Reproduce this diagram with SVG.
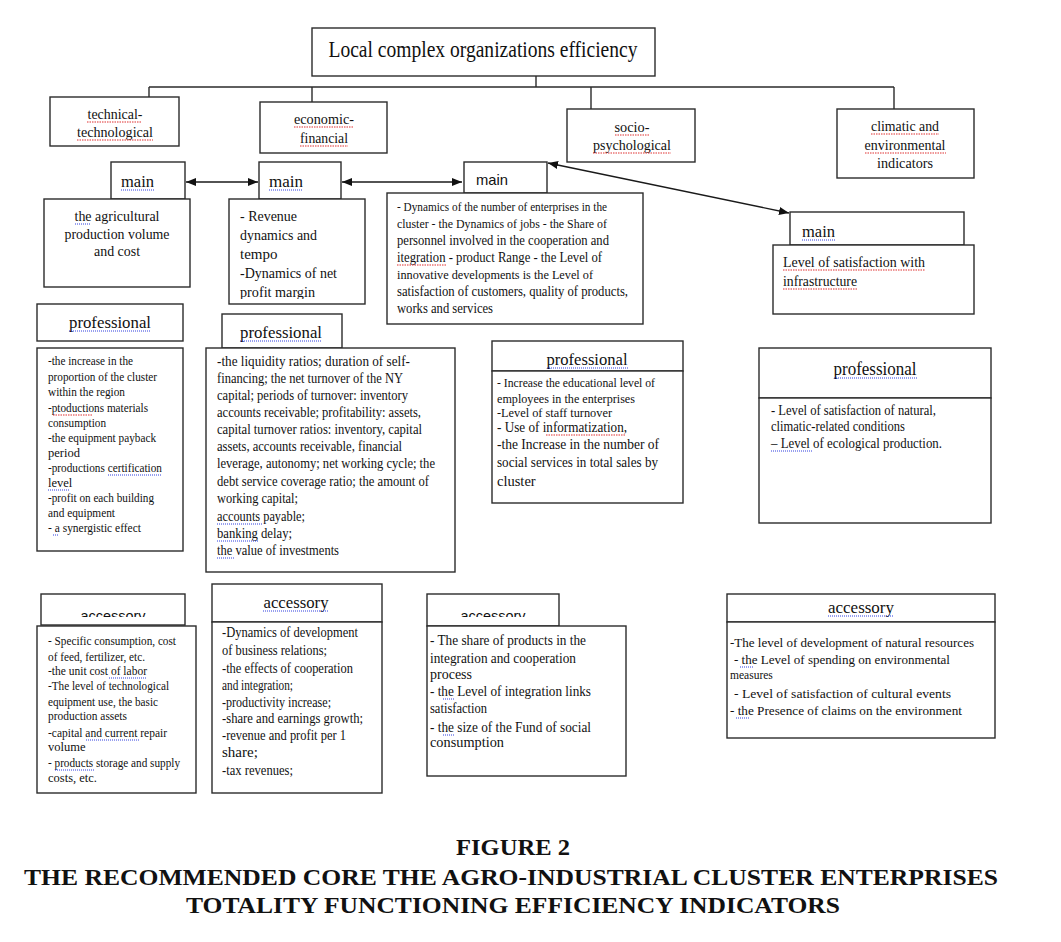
<svg xmlns="http://www.w3.org/2000/svg" width="1061" height="942" viewBox="0 0 1061 942">
<style>
.bx{fill:#fff;stroke:#2b2b2b;stroke-width:1.4}
.ln{fill:none;stroke:#2b2b2b;stroke-width:1.4}
.ar{fill:none;stroke:#1a1a1a;stroke-width:1.4;marker-start:url(#ah);marker-end:url(#ah)}
text{font-family:"Liberation Serif","Times New Roman",serif;fill:#111}
.sans{font-family:"Liberation Sans",Arial,sans-serif}
.c{text-anchor:middle}
.cap{font-weight:bold;font-size:24px}
.sr{fill:none;stroke:#e03030;stroke-width:1.1;stroke-dasharray:1.5 1}
.sb{fill:none;stroke:#3040e0;stroke-width:1.1;stroke-dasharray:1 1}
</style>
<defs>
<marker id="ah" viewBox="0 0 10 8" refX="10" refY="4" markerWidth="10" markerHeight="8" markerUnits="userSpaceOnUse" orient="auto-start-reverse">
<path d="M0,0 L10,4 L0,8 z" fill="#111"/>
</marker>
<clipPath id="clipAcc1"><rect x="41" y="594" width="144" height="23"/></clipPath>
<clipPath id="clipAcc3"><rect x="427" y="594" width="132" height="23"/></clipPath>
<clipPath id="clipMain2"><rect x="229" y="199" width="136" height="100"/></clipPath>
</defs>

<g id="connectors">
<path class="ln" d="M536,76 V87 M149,87 H894 M149,87 V97 M312,87 V102 M591,87 V109 M894,87 V109"/>
<path class="ar" d="M186,182 H258"/>
<path class="ar" d="M342,182 H462"/>
<path class="ar" d="M548,163 L789,213"/>
</g>

<g id="title">
<rect class="bx" x="312" y="28" width="343" height="48"/>
<text class="c" x="483" y="57" font-size="23" textLength="309" lengthAdjust="spacingAndGlyphs">Local complex organizations efficiency</text>
</g>

<g id="technical">
<rect class="bx" x="50" y="97" width="129" height="49"/>
<text class="c" x="115" y="119" font-size="15" textLength="55" lengthAdjust="spacingAndGlyphs">technical-</text>
<text class="c" x="115" y="137" font-size="15" textLength="76" lengthAdjust="spacingAndGlyphs">technological</text>
</g>

<g id="economic">
<rect class="bx" x="260" y="102" width="127" height="51"/>
<text class="c" x="324" y="124" font-size="15" textLength="60" lengthAdjust="spacingAndGlyphs">economic-</text>
<text class="c" x="324" y="143" font-size="15" textLength="48" lengthAdjust="spacingAndGlyphs">financial</text>
</g>

<g id="socio">
<rect class="bx" x="567" y="109" width="128" height="53"/>
<text class="c" x="632" y="132" font-size="15" textLength="35" lengthAdjust="spacingAndGlyphs">socio-</text>
<text class="c" x="632" y="150" font-size="15" textLength="78" lengthAdjust="spacingAndGlyphs">psychological</text>
</g>

<g id="climatic">
<rect class="bx" x="837" y="109" width="137" height="69"/>
<text class="c" x="905" y="131" font-size="15" textLength="68" lengthAdjust="spacingAndGlyphs">climatic and</text>
<text class="c" x="905" y="150" font-size="15" textLength="81" lengthAdjust="spacingAndGlyphs">environmental</text>
<text class="c" x="905" y="168" font-size="15" textLength="56" lengthAdjust="spacingAndGlyphs">indicators</text>
</g>

<g id="main1">
<rect class="bx" x="111" y="162" width="74" height="37"/>
<text x="121" y="187" font-size="16" textLength="33" lengthAdjust="spacingAndGlyphs">main</text>
<rect class="bx" x="44" y="199" width="146" height="88"/>
<text class="c" x="117" y="221" font-size="15" textLength="85" lengthAdjust="spacingAndGlyphs">the agricultural</text>
<text class="c" x="117" y="239" font-size="15" textLength="105" lengthAdjust="spacingAndGlyphs">production volume</text>
<text class="c" x="117" y="256" font-size="15" textLength="46" lengthAdjust="spacingAndGlyphs">and cost</text>
</g>

<g id="main2">
<rect class="bx" x="259" y="162" width="82" height="37"/>
<text x="269" y="187" font-size="16" textLength="34" lengthAdjust="spacingAndGlyphs">main</text>
<rect class="bx" x="229" y="199" width="136" height="105"/>
<g clip-path="url(#clipMain2)" font-size="15">
<text x="240" y="221" textLength="57" lengthAdjust="spacingAndGlyphs">- Revenue</text>
<text x="240" y="240" textLength="77" lengthAdjust="spacingAndGlyphs">dynamics and</text>
<text x="240" y="259">tempo</text>
<text x="240" y="278" textLength="97" lengthAdjust="spacingAndGlyphs">-Dynamics of net</text>
<text x="240" y="297" textLength="75" lengthAdjust="spacingAndGlyphs">profit margin</text>
</g>
</g>

<g id="main3">
<rect class="bx" x="464" y="162" width="83" height="31"/>
<text class="sans" x="476" y="185" font-size="15" textLength="32" lengthAdjust="spacingAndGlyphs">main</text>
<rect class="bx" x="387" y="193" width="256" height="131"/>
<text x="397" y="211" font-size="12" textLength="210" lengthAdjust="spacingAndGlyphs">- Dynamics of the number of enterprises in the</text>
<text x="397" y="228" font-size="12.5" textLength="210" lengthAdjust="spacingAndGlyphs">cluster - the Dynamics of jobs - the Share of</text>
<text x="397" y="245" font-size="14" textLength="212" lengthAdjust="spacingAndGlyphs">personnel involved in the cooperation and</text>
<text x="397" y="262" font-size="14" textLength="205" lengthAdjust="spacingAndGlyphs">itegration - product Range - the Level of</text>
<text x="397" y="279" font-size="13.5" textLength="196" lengthAdjust="spacingAndGlyphs">innovative developments is the Level of</text>
<text x="397" y="296" font-size="14" textLength="231" lengthAdjust="spacingAndGlyphs">satisfaction of customers, quality of products,</text>
<text x="397" y="313" font-size="14" textLength="96" lengthAdjust="spacingAndGlyphs">works and services</text>
</g>

<g id="main4">
<rect class="bx" x="790" y="212" width="174" height="33"/>
<text x="802" y="237" font-size="16" textLength="33" lengthAdjust="spacingAndGlyphs">main</text>
<rect class="bx" x="773" y="245" width="201" height="69"/>
<text x="783" y="267" font-size="15.5" textLength="142" lengthAdjust="spacingAndGlyphs">Level of satisfaction with</text>
<text x="783" y="286" font-size="15.5" textLength="74" lengthAdjust="spacingAndGlyphs">infrastructure</text>
</g>

<g id="professional1">
<rect class="bx" x="37" y="304" width="146" height="37"/>
<text class="c" x="110" y="328" font-size="17" textLength="82" lengthAdjust="spacingAndGlyphs">professional</text>
<rect class="bx" x="37" y="348" width="146" height="203"/>
<g font-size="12.5">
<text x="48" y="365" textLength="85" lengthAdjust="spacingAndGlyphs">-the increase in the</text>
<text x="48" y="381" textLength="109" lengthAdjust="spacingAndGlyphs">proportion of the cluster</text>
<text x="48" y="396" textLength="77" lengthAdjust="spacingAndGlyphs">within the region</text>
<text x="48" y="412" textLength="100" lengthAdjust="spacingAndGlyphs">-ptoductions materials</text>
<text x="48" y="427" textLength="58" lengthAdjust="spacingAndGlyphs">consumption</text>
<text x="48" y="442" textLength="108" lengthAdjust="spacingAndGlyphs">-the equipment payback</text>
<text x="48" y="457">period</text>
<text x="48" y="472" textLength="114" lengthAdjust="spacingAndGlyphs">-productions certification </text>
<text x="48" y="487">level</text>
<text x="48" y="502" textLength="106" lengthAdjust="spacingAndGlyphs">-profit on each building</text>
<text x="48" y="517" textLength="67" lengthAdjust="spacingAndGlyphs">and equipment</text>
<text x="48" y="532" textLength="93" lengthAdjust="spacingAndGlyphs">-  a synergistic effect</text>
</g>
</g>

<g id="professional2">
<rect class="bx" x="222" y="314" width="120" height="34"/>
<text class="c" x="281" y="338" font-size="17" textLength="82" lengthAdjust="spacingAndGlyphs">professional</text>
<rect class="bx" x="206" y="348" width="249" height="224"/>
<g font-size="15">
<text x="217" y="366" textLength="193" lengthAdjust="spacingAndGlyphs">-the liquidity ratios; duration of self-</text>
<text x="217" y="383" textLength="186" lengthAdjust="spacingAndGlyphs">financing; the net turnover of the NY</text>
<text x="217" y="400" textLength="191" lengthAdjust="spacingAndGlyphs">capital; periods of turnover: inventory</text>
<text x="217" y="417" textLength="204" lengthAdjust="spacingAndGlyphs">accounts receivable; profitability: assets,</text>
<text x="217" y="434" textLength="205" lengthAdjust="spacingAndGlyphs">capital turnover ratios: inventory, capital</text>
<text x="217" y="451" textLength="185" lengthAdjust="spacingAndGlyphs">assets, accounts receivable, financial</text>
<text x="217" y="468" textLength="218" lengthAdjust="spacingAndGlyphs">leverage, autonomy; net working cycle; the</text>
<text x="217" y="486" textLength="212" lengthAdjust="spacingAndGlyphs">debt service coverage ratio; the amount of</text>
<text x="217" y="503" textLength="81" lengthAdjust="spacingAndGlyphs">working capital;</text>
<text x="217" y="521" textLength="88" lengthAdjust="spacingAndGlyphs">accounts payable;</text>
<text x="217" y="538" textLength="75" lengthAdjust="spacingAndGlyphs">banking delay;</text>
<text x="217" y="555" textLength="122" lengthAdjust="spacingAndGlyphs">the value of investments</text>
</g>
</g>

<g id="professional3">
<rect class="bx" x="492" y="341" width="191" height="30"/>
<text class="c" x="587" y="365" font-size="17" textLength="81" lengthAdjust="spacingAndGlyphs">professional</text>
<rect class="bx" x="492" y="371" width="191" height="132"/>
<text x="497" y="387" font-size="12" textLength="158" lengthAdjust="spacingAndGlyphs">- Increase the educational level of</text>
<text x="497" y="403" font-size="12" textLength="138" lengthAdjust="spacingAndGlyphs">employees in the enterprises</text>
<text x="497" y="417" font-size="13.5" textLength="115" lengthAdjust="spacingAndGlyphs">-Level of staff turnover</text>
<text x="497" y="432" font-size="14.5" textLength="130" lengthAdjust="spacingAndGlyphs">- Use of informatization,</text>
<text x="497" y="449" font-size="14.5" textLength="162" lengthAdjust="spacingAndGlyphs">-the Increase in the number of</text>
<text x="497" y="467" font-size="14.5" textLength="161" lengthAdjust="spacingAndGlyphs">social services in total sales by</text>
<text x="497" y="486" font-size="14.5">cluster</text>
</g>

<g id="professional4">
<rect class="bx" x="759" y="348" width="232" height="50"/>
<text class="c" x="875" y="375" font-size="18" textLength="83" lengthAdjust="spacingAndGlyphs">professional</text>
<rect class="bx" x="759" y="398" width="232" height="125"/>
<g font-size="14">
<text x="771" y="415" textLength="165" lengthAdjust="spacingAndGlyphs">- Level of satisfaction of natural,</text>
<text x="771" y="431" textLength="134" lengthAdjust="spacingAndGlyphs">climatic-related conditions</text>
<text x="771" y="448" textLength="171" lengthAdjust="spacingAndGlyphs">–  Level of ecological production.</text>
</g>
</g>

<g id="accessory1">
<rect class="bx" x="41" y="594" width="144" height="31"/>
<text class="sans c" x="113" y="621" font-size="15" textLength="65" lengthAdjust="spacingAndGlyphs" clip-path="url(#clipAcc1)">accessory</text>
<rect class="bx" x="37" y="626" width="159" height="167"/>
<g font-size="12.5">
<text x="48" y="645" textLength="128" lengthAdjust="spacingAndGlyphs">- Specific consumption, cost</text>
<text x="48" y="661" textLength="97" lengthAdjust="spacingAndGlyphs">of feed, fertilizer, etc.</text>
<text x="48" y="675" textLength="99" lengthAdjust="spacingAndGlyphs">-the unit cost of  labor</text>
<text x="48" y="690" textLength="121" lengthAdjust="spacingAndGlyphs">-The level of technological</text>
<text x="48" y="706" textLength="110" lengthAdjust="spacingAndGlyphs">equipment use, the basic</text>
<text x="48" y="720" textLength="79" lengthAdjust="spacingAndGlyphs">production assets</text>
<text x="48" y="737" textLength="119" lengthAdjust="spacingAndGlyphs">-capital and  current repair</text>
<text x="48" y="751">volume</text>
<text x="48" y="767" textLength="132" lengthAdjust="spacingAndGlyphs">- products storage and supply</text>
<text x="48" y="782">costs, etc.</text>
</g>
</g>

<g id="accessory2">
<rect class="bx" x="212" y="584" width="170" height="38"/>
<text class="c" x="296" y="608" font-size="17" textLength="65" lengthAdjust="spacingAndGlyphs">accessory</text>
<rect class="bx" x="212" y="622" width="170" height="171"/>
<g font-size="15">
<text x="222" y="637" textLength="136" lengthAdjust="spacingAndGlyphs">-Dynamics of development</text>
<text x="222" y="655" textLength="105" lengthAdjust="spacingAndGlyphs">of business relations;</text>
<text x="222" y="673" textLength="131" lengthAdjust="spacingAndGlyphs">-the effects of cooperation</text>
<text x="222" y="690" textLength="71" lengthAdjust="spacingAndGlyphs">and integration;</text>
<text x="222" y="707" textLength="109" lengthAdjust="spacingAndGlyphs">-productivity increase;</text>
<text x="222" y="723" textLength="141" lengthAdjust="spacingAndGlyphs">-share and earnings growth;</text>
<text x="222" y="740" textLength="124" lengthAdjust="spacingAndGlyphs">-revenue and profit per 1</text>
<text x="222" y="757">share;</text>
<text x="222" y="775" textLength="71" lengthAdjust="spacingAndGlyphs">-tax revenues;</text>
</g>
</g>

<g id="accessory3">
<rect class="bx" x="427" y="594" width="132" height="32"/>
<text class="sans c" x="493" y="621" font-size="15" textLength="65" lengthAdjust="spacingAndGlyphs" clip-path="url(#clipAcc3)">accessory</text>
<rect class="bx" x="427" y="626" width="199" height="150"/>
<g font-size="14">
<text x="430" y="645" textLength="156" lengthAdjust="spacingAndGlyphs">- The share of products in the</text>
<text x="430" y="663" textLength="146" lengthAdjust="spacingAndGlyphs">integration and cooperation</text>
<text x="430" y="679" textLength="42" lengthAdjust="spacingAndGlyphs">process</text>
<text x="430" y="696" textLength="161" lengthAdjust="spacingAndGlyphs">- the Level of integration links</text>
<text x="430" y="713" textLength="57" lengthAdjust="spacingAndGlyphs">satisfaction</text>
<text x="430" y="732" textLength="161" lengthAdjust="spacingAndGlyphs">- the size of the Fund of social</text>
<text x="430" y="747" textLength="74" lengthAdjust="spacingAndGlyphs">consumption</text>
</g>
</g>

<g id="accessory4">
<rect class="bx" x="727" y="594" width="268" height="28"/>
<text class="c" x="861" y="613" font-size="16" textLength="66" lengthAdjust="spacingAndGlyphs">accessory</text>
<rect class="bx" x="727" y="622" width="268" height="116"/>
<g font-size="13.5">
<text x="730" y="647" textLength="244" lengthAdjust="spacingAndGlyphs">-The level of development of natural resources</text>
<text x="734" y="664" textLength="216" lengthAdjust="spacingAndGlyphs">- the Level of spending on environmental</text>
<text x="730" y="679" font-size="11.5">measures</text>
<text x="734" y="698" textLength="217" lengthAdjust="spacingAndGlyphs">- Level of satisfaction of cultural events</text>
<text x="730" y="715" textLength="232" lengthAdjust="spacingAndGlyphs">- the Presence of claims on the environment</text>
</g>
</g>

<g id="spellcheck-marks">
<path class="sr" d="M87,122 H142 M77,140 H153 M294,127 H354 M300,146 H348 M615,135 H650 M593,153 H671 M871,134 H939 M865,153 H946 M397,265 H446 M783,270 H925 M783,289 H857 M53,415 H93 M546,435 H625"/>
<path class="sb" d="M121,190 H154 M269,190 H303 M802,240 H835 M75,224 H91 M69,331 H151 M240,341 H322 M547,368 H628 M834,378 H917 M108,475 H162 M48,490 H70 M53,535 H59 M217,524 H262 M217,541 H258 M217,558 H234 M771,451 H812 M109,678 H146 M86,740 H139 M55,770 H94 M263,611 H328 M443,699 H455 M443,735 H455 M828,616 H894 M740,667 H753 M736,718 H749"/>
</g>

<g id="caption">
<text class="cap c" x="513" y="855" textLength="114" lengthAdjust="spacingAndGlyphs">FIGURE 2</text>
<text class="cap c" x="511" y="885" textLength="974" lengthAdjust="spacingAndGlyphs">THE RECOMMENDED CORE THE AGRO-INDUSTRIAL CLUSTER ENTERPRISES</text>
<text class="cap c" x="513" y="913" textLength="654" lengthAdjust="spacingAndGlyphs">TOTALITY FUNCTIONING EFFICIENCY INDICATORS</text>
</g>
</svg>
